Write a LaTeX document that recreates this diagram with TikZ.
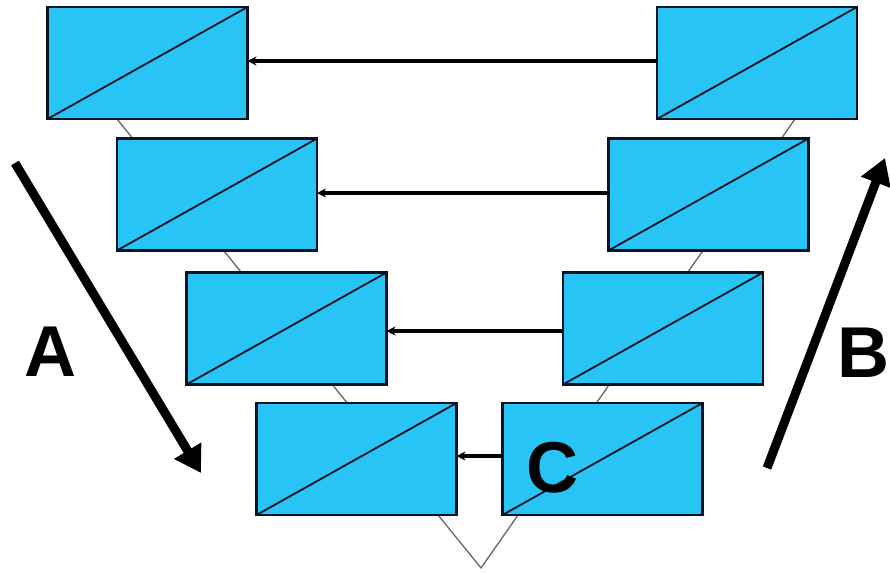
\documentclass[tikz,border=0pt]{standalone}
\usepackage{fontspec}
\setmainfont{Liberation Sans}
\usetikzlibrary{arrows.meta}
\definecolor{boxblue}{RGB}{40,196,245}
\definecolor{boxline}{RGB}{8,20,35}
\tikzset{
  stagebox/.style={draw=boxline, line width=2.4pt, fill=boxblue, minimum width=200pt, minimum height=112pt, inner sep=0pt, outer sep=0pt,
    path picture={\draw[boxline, line width=1.8pt] (path picture bounding box.south west) -- (path picture bounding box.north east);}},
  flow/.style={draw=black, line width=3.5pt, -{Stealth[length=9pt,width=9pt]}},
  bigarrow/.style={draw=black, line width=9pt, -{Triangle[length=26pt,width=30pt]}},
  vline/.style={draw=gray!80!black, line width=1.3pt},
  biglabel/.style={font=\bfseries\fontsize{72}{72}\selectfont, inner sep=0pt}
}
\begin{document}
\begin{tikzpicture}[x=1pt,y=-1pt]
\useasboundingbox (0,0) rectangle (890,573);
% V line behind the boxes
\coordinate (apex) at (481,568);
\coordinate (vl) at (117,119);
\coordinate (vr) at (795,119);
\draw[vline] (vl) -- (apex) -- (vr);
% boxes
\node[stagebox] (L1) at (147.5,63) {};
\node[stagebox] (L2) at (217,194.5) {};
\node[stagebox] (L3) at (286.5,328.5) {};
\node[stagebox] (L4) at (356.5,459) {};
\node[stagebox] (R1) at (757,63) {};
\node[stagebox] (R2) at (708.5,194.5) {};
\node[stagebox] (R3) at (663,328.5) {};
\node[stagebox] (R4) at (602.5,459) {};
% horizontal arrows
\draw[flow] ([yshift=2pt]R1.west) -- ([yshift=2pt]L1.east);
\draw[flow] ([yshift=1.5pt]R2.west) -- ([yshift=1.5pt]L2.east);
\draw[flow] ([yshift=-2.5pt]R3.west) -- ([yshift=-2.5pt]L3.east);
\draw[flow] ([yshift=3pt]R4.west) -- ([yshift=3pt]L4.east);
% big arrows
\coordinate (As) at (15,163);
\coordinate (Ae) at (201,473);
\coordinate (Bs) at (767,468);
\coordinate (Be) at (885,158);
\draw[bigarrow] (As) -- (Ae);
\draw[bigarrow] (Bs) -- (Be);
% labels
\node[biglabel] (labA) at (50,352) {A};
\node[biglabel] (labB) at (863,353) {B};
\node[biglabel] (labC) at (552,468) {C};
\end{tikzpicture}
\end{document}
